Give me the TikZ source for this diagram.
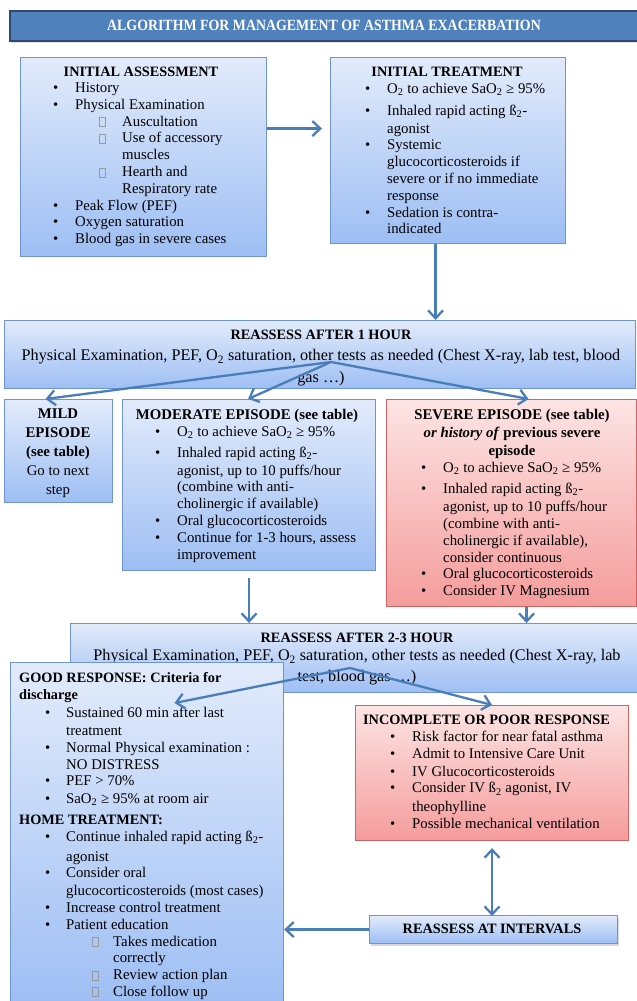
\documentclass[tikz,border=0pt]{standalone}
\usepackage{fontspec}
\setmainfont{Liberation Serif}
\usetikzlibrary{arrows.meta,shadows}

\definecolor{bluetop}{HTML}{E2EBFB}
\definecolor{bluebot}{HTML}{9DBEF4}
\definecolor{blueline}{HTML}{6E95CF}
\definecolor{redtop}{HTML}{FDE4E4}
\definecolor{redbot}{HTML}{F59C9C}
\definecolor{redline}{HTML}{D06262}
\definecolor{flowblue}{HTML}{4A7EBB}
\definecolor{titlefill}{HTML}{4F81BD}
\definecolor{titleline}{HTML}{2E4A6F}
\definecolor{markgray}{HTML}{9A9A9A}

% text sizes
\newcommand{\bodysize}{\fontsize{14.8}{16.8}\selectfont}
\newcommand{\widesize}{\fontsize{16.2}{16.8}\selectfont}
\newcommand{\headsize}{\fontsize{14.3}{16.8}\selectfont\bfseries}

% list helpers: \bx = indent before bullet, \bw = bullet column,
% \sx = indent of the sub-marker, \sw = sub-marker column
\newlength\bx \newlength\bw \newlength\sx \newlength\sw
\setlength\bx{0pt}\setlength\bw{22pt}\setlength\sx{24pt}\setlength\sw{47pt}
\newcommand{\two}{\textsubscript{2}}
\newcommand{\submark}{{\color{markgray}\fboxsep=0pt\fboxrule=0.5pt\fbox{\rule{0pt}{8.5pt}\hspace{5.5pt}}}}
\newcommand{\bitem}[1]{\hspace*{\bx}\makebox[\bw][l]{\textbullet}#1}
\newcommand{\bcont}[1]{\hspace*{\bx}\hspace*{\bw}#1}
\newcommand{\sitem}[1]{\hspace*{\bx}\hspace*{\bw}\makebox[\sw][l]{\hspace*{\sx}\submark}#1}
\newcommand{\scont}[1]{\hspace*{\bx}\hspace*{\bw}\hspace*{\sw}#1}
\newenvironment{lines}{\begin{tabular}[t]{@{}l@{}}}{\end{tabular}}
\newenvironment{clines}{\begin{tabular}[t]{@{}c@{}}}{\end{tabular}}

\tikzset{
  panel/.style={rectangle, draw=blueline, line width=1.1pt, top color=bluetop,
    bottom color=bluebot, inner sep=0pt, anchor=north west},
  alarm/.style={panel, draw=redline, top color=redtop, bottom color=redbot},
  flow/.style={draw=flowblue, line width=2.3pt,
    -{Straight Barb[length=8pt,width=15pt,line width=2.3pt]}},
  twoway/.style={draw=flowblue, line width=2.3pt,
    {Straight Barb[length=8pt,width=15pt,line width=2.3pt]}-{Straight Barb[length=8pt,width=15pt,line width=2.3pt]}},
  head/.style={inner sep=0pt, anchor=base, font=\headsize},
  body/.style={inner sep=0pt, anchor=base west, font=\bodysize},
  cbody/.style={inner sep=0pt, anchor=base, font=\bodysize},
}

\begin{document}
\begin{tikzpicture}[x=1pt,y=-1pt]
\useasboundingbox (0,0) rectangle (637,1001);
\fill[white] (0,0) rectangle (637,1001);

% ---------- title bar ----------
\node[rectangle, draw=titleline, line width=2.4pt, fill=titlefill, inner sep=0pt,
  anchor=north west, minimum width=632pt, minimum height=30pt,
  drop shadow={shadow xshift=1pt, shadow yshift=-2pt, opacity=0.25}] (title) at (9,10) {};
\node[inner sep=0pt, anchor=base, text=white, font=\fontsize{15.6}{16}\selectfont\bfseries]
  (titletext) at (324,30.5) {\scalebox{0.89}[1]{ALGORITHM FOR MANAGEMENT OF ASTHMA EXACERBATION}};

% ---------- initial assessment ----------
\node[panel, minimum width=246pt, minimum height=199pt] (ia) at (20,57) {};
\node[head] (iahead) at (141,76) {INITIAL ASSESSMENT};
\node[body] (ialist) at (53,92.5) {\begin{lines}
\bitem{History}\\
\bitem{Physical Examination}\\
\sitem{Auscultation}\\
\sitem{Use of accessory}\\
\scont{muscles}\\
\sitem{Hearth and}\\
\scont{Respiratory rate}\\
\bitem{Peak Flow (PEF)}\\
\bitem{Oxygen saturation}\\
\bitem{Blood gas in severe cases}
\end{lines}};

% ---------- initial treatment ----------
\node[panel, minimum width=235pt, minimum height=186pt] (it) at (330,57) {};
\node[head] (ithead) at (447,76) {INITIAL TREATMENT};
\node[body] (itlist) at (365,93.5) {\begin{lines}
\bitem{O\two{} to achieve SaO\two{} ≥ 95\%}\\[5pt]
\bitem{Inhaled rapid acting ß\two-}\\[1pt]
\bcont{agonist}\\
\bitem{Systemic}\\
\bcont{glucocorticosteroids if}\\
\bcont{severe or if no immediate}\\
\bcont{response}\\
\bitem{Sedation is contra-}\\
\bcont{indicated}
\end{lines}};

% ---------- reassess after 1 hour ----------
\node[panel, minimum width=631pt, minimum height=68pt] (r1) at (4,320) {};
\node[cbody] (r1text) at (321,339) {\begin{clines}
{\headsize REASSESS AFTER 1 HOUR}\\[5pt]
{\widesize Physical Examination, PEF, O\two{} saturation, other tests as needed (Chest X-ray, lab test, blood}\\[5pt]
{\widesize gas …)}
\end{clines}};

% ---------- mild episode ----------
\node[panel, minimum width=108pt, minimum height=103pt] (mild) at (4,399) {};
\node[cbody] (mildtext) at (58,418) {\begin{clines}
{\bfseries MILD}\\[2.2pt]
{\bfseries EPISODE}\\[2.2pt]
{\bfseries (see table)}\\[2.2pt]
Go to next\\[2.2pt]
step
\end{clines}};

% ---------- moderate episode ----------
\node[panel, minimum width=253pt, minimum height=171pt] (mod) at (122,399) {};
\node[head, font=\fontsize{14.8}{16.8}\selectfont\bfseries] (modhead) at (247,419) {MODERATE EPISODE (see table)};
\node[body] (modlist) at (155,436.5) {\begin{lines}
\bitem{O\two{} to achieve SaO\two{} ≥ 95\%}\\[4pt]
\bitem{Inhaled rapid acting ß\two-}\\[1pt]
\bcont{agonist, up to 10 puffs/hour}\\
\bcont{(combine with anti-}\\
\bcont{cholinergic if available)}\\
\bitem{Oral glucocorticosteroids}\\
\bitem{Continue for 1-3 hours, assess}\\
\bcont{improvement}
\end{lines}};

% ---------- severe episode ----------
\node[alarm, minimum width=250pt, minimum height=207pt] (sev) at (386,399) {};
\node[cbody, font=\fontsize{14.8}{16.8}\selectfont\bfseries] (sevhead) at (512,419) {\begin{clines}
SEVERE EPISODE (see table)\\[1.5pt]
\textit{or history of} previous severe\\[1.5pt]
episode
\end{clines}};
\node[body] (sevlist) at (421,472.5) {\setlength\bw{22pt}\begin{lines}
\bitem{O\two{} to achieve SaO\two{} ≥ 95\%}\\[4.5pt]
\bitem{Inhaled rapid acting ß\two-}\\[1pt]
\bcont{agonist, up to 10 puffs/hour}\\
\bcont{(combine with anti-}\\
\bcont{cholinergic if available),}\\
\bcont{consider continuous}\\
\bitem{Oral glucocorticosteroids}\\
\bitem{Consider IV Magnesium}
\end{lines}};

% ---------- reassess after 2-3 hours ----------
\node[panel, minimum width=567pt, minimum height=69pt] (r2) at (70,623) {};
\node[cbody] (r2text) at (357,642) {\begin{clines}
{\headsize REASSESS AFTER 2-3 HOUR}\\[2pt]
{\widesize Physical Examination, PEF, O\two{} saturation, other tests as needed (Chest X-ray, lab}\\[4pt]
{\widesize test, blood gas …)}
\end{clines}};

% ---------- good response ----------
\node[panel, minimum width=273pt, minimum height=345pt] (good) at (10,662) {};
\node[body] (goodlist) at (19,682) {\setlength\bx{26pt}\setlength\bw{21pt}\setlength\sx{26pt}%
\begin{lines}
{\headsize GOOD RESPONSE: Criteria for}\\[1pt]
{\headsize discharge}\\[1pt]
\bitem{Sustained 60 min after last}\\[1pt]
\bcont{treatment}\\
\bitem{Normal Physical examination :}\\
\bcont{NO DISTRESS}\\
\bitem{PEF > 70\%}\\[1pt]
\bitem{SaO\two{} ≥ 95\% at room air}\\[4pt]
{\headsize HOME TREATMENT:}\\
\bitem{Continue inhaled rapid acting ß\two-}\\[3pt]
\bcont{agonist}\\
\bitem{Consider oral}\\[1pt]
\bcont{glucocorticosteroids (most cases)}\\
\bitem{Increase control treatment}\\
\bitem{Patient education}\\
\sitem{Takes medication}\\
\scont{correctly}\\
\sitem{Review action plan}\\
\sitem{Close follow up}
\end{lines}};

% ---------- incomplete or poor response ----------
\node[alarm, minimum width=273pt, minimum height=135pt] (inc) at (355,705) {};
\node[head] (inchead) at (486.5,724) {INCOMPLETE OR POOR RESPONSE};
\node[body] (inclist) at (390,741.5) {\begin{lines}
\bitem{Risk factor for near fatal asthma}\\
\bitem{Admit to Intensive Care Unit}\\[1pt]
\bitem{IV Glucocorticosteroids}\\
\bitem{Consider IV ß\two{} agonist, IV}\\[2pt]
\bcont{theophylline}\\
\bitem{Possible mechanical ventilation}
\end{lines}};

% ---------- reassess at intervals ----------
\node[panel, minimum width=248pt, minimum height=28pt,
  drop shadow={shadow xshift=1.5pt, shadow yshift=-2.5pt, opacity=0.3}] (ivl) at (369,915) {};
\node[head] (ivltext) at (492,933.5) {REASSESS AT INTERVALS};

% ---------- connectors ----------
\coordinate (hub1) at (331,362);
\coordinate (hub2) at (350,668);
\draw[flow] ([yshift=28.5pt]ia.east) -- ([xshift=-8pt,yshift=22pt]it.west);
\draw[flow] ([xshift=-12.5pt]it.south) -- ([xshift=-12.5pt]it.south |- r1.north);
\draw[flow] (hub1) -- ([xshift=-13pt]mild.north);
\draw[flow] (hub1) -- ([xshift=-1pt]mod.north);
\draw[flow] (hub1) -- ([xshift=17pt]sev.north);
\draw[flow] ([yshift=-7pt]mod.south) -- (mod.south |- r2.north);
\draw[flow] ([xshift=15pt]sev.south) -- ([xshift=15pt]sev.south |- r2.north);
\draw[flow] (hub2) -- ([xshift=27.5pt,yshift=-41pt]good.north);
\draw[flow] (hub2) -- (inc.north);
\draw[twoway] ([yshift=-7pt]inc.south) -- ([yshift=-1pt]inc.south |- ivl.north);
\draw[flow] (ivl.west) -- (ivl.west -| good.east);
\end{tikzpicture}
\end{document}
